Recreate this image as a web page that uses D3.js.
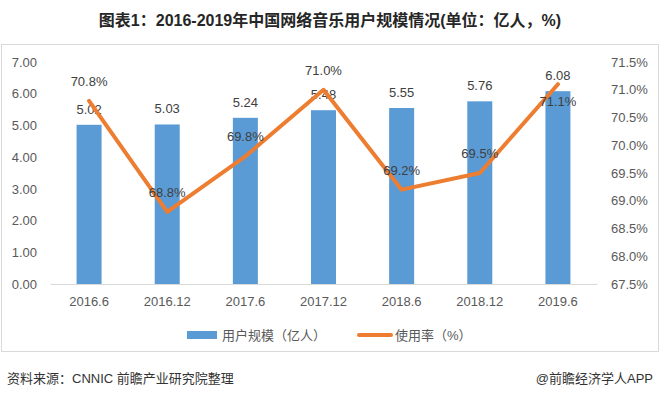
<!DOCTYPE html>
<html><head><meta charset="utf-8">
<script src="https://cdn.jsdelivr.net/npm/d3@7"></script>
<style>
html,body{margin:0;padding:0;background:#fff;}
svg{display:block;font-family:"Liberation Sans","Noto Sans CJK SC",sans-serif;}
</style></head>
<body>
<svg id="c" width="660" height="397"></svg>
<script>
const categories = ["2016.6","2016.12","2017.6","2017.12","2018.6","2018.12","2019.6"];
const users = [5.02,5.03,5.24,5.48,5.55,5.76,6.08];
const rate = [70.8,68.8,69.8,71.0,69.2,69.5,71.1];
const leftTicks = [0,1,2,3,4,5,6,7];
const rightTicks = [67.5,68,68.5,69,69.5,70,70.5,71,71.5];
const rateLabelBelow = [false,false,false,false,false,false,true];

const svg = d3.select("#c");
const x = d3.scaleBand().domain(categories).range([50,597]).paddingInner(0.68).paddingOuter(0.34);
const yL = d3.scaleLinear().domain([0,7]).range([284,62]);
const yR = d3.scaleLinear().domain([67.5,71.5]).range([284,62]);
const cx = c => x(c) + x.bandwidth()/2;

// frame
svg.append("rect").attr("x",1.5).attr("y",44.5).attr("width",657).attr("height",307)
  .attr("fill","none").attr("stroke","#d9d9d9");

// title
svg.append("text").attr("x",330).attr("y",26).attr("text-anchor","middle")
  .attr("font-size",16).attr("font-weight","bold").attr("fill","#262626")
  .text("图表1：2016-2019年中国网络音乐用户规模情况(单位：亿人，%)");

// axes
const axL = svg.append("g").attr("transform","translate(50,0)")
  .call(d3.axisLeft(yL).tickValues(leftTicks).tickFormat(d3.format(".2f")).tickSize(0).tickPadding(13));
const axR = svg.append("g").attr("transform","translate(597,0)")
  .call(d3.axisRight(yR).tickValues(rightTicks).tickFormat(d=>d3.format(".1f")(d)+"%").tickSize(0).tickPadding(14));
[axL,axR].forEach(a=>{a.select(".domain").remove();
  a.selectAll("text").attr("font-size",13).attr("fill","#595959").attr("font-family","Liberation Sans, sans-serif");});

const axB = svg.append("g").attr("transform","translate(0,284)")
  .call(d3.axisBottom(x).tickSize(0).tickPadding(13));
axB.select(".domain").attr("stroke","#d9d9d9").attr("d","M50.5,0.5H597.5");
axB.selectAll("text").attr("font-size",13).attr("fill","#595959").attr("font-family","Liberation Sans, sans-serif");

// bars
svg.append("g").selectAll("rect").data(categories).join("rect")
  .attr("x",d=>x(d)).attr("width",x.bandwidth())
  .attr("y",(d,i)=>yL(users[i])).attr("height",(d,i)=>yL(0)-yL(users[i]))
  .attr("fill","#5B9BD5");

// bar labels
svg.append("g").selectAll("text").data(categories).join("text")
  .attr("x",d=>cx(d)).attr("y",(d,i)=>yL(users[i])-11)
  .attr("text-anchor","middle").attr("font-size",13).attr("fill","#404040")
  .text((d,i)=>users[i].toFixed(2));

// line
const line = d3.line().x((d,i)=>cx(categories[i])).y(d=>yR(d));
svg.append("path").datum(rate).attr("d",line).attr("fill","none")
  .attr("stroke","#ED7D31").attr("stroke-width",4).attr("stroke-linejoin","round").attr("stroke-linecap","round");

// line labels
svg.append("g").selectAll("text").data(categories).join("text")
  .attr("x",d=>cx(d)).attr("y",(d,i)=>rateLabelBelow[i] ? yR(rate[i])+22 : yR(rate[i])-15)
  .attr("text-anchor","middle").attr("font-size",13).attr("fill","#404040")
  .text((d,i)=>rate[i].toFixed(1)+"%");

// legend
const lg = svg.append("g");
lg.append("rect").attr("x",187).attr("y",331).attr("width",30).attr("height",8).attr("fill","#5B9BD5");
lg.append("text").attr("x",222).attr("y",340).attr("font-size",13).attr("fill","#595959").text("用户规模（亿人）");
lg.append("line").attr("x1",359).attr("x2",391).attr("y1",335).attr("y2",335)
  .attr("stroke","#ED7D31").attr("stroke-width",4).attr("stroke-linecap","round");
lg.append("text").attr("x",395).attr("y",340).attr("font-size",13).attr("fill","#595959").text("使用率（%）");

// footer
svg.append("text").attr("x",7).attr("y",383).attr("font-size",13).attr("fill","#333")
  .text("资料来源：CNNIC 前瞻产业研究院整理");
svg.append("text").attr("x",653).attr("y",383).attr("text-anchor","end").attr("font-size",13).attr("fill","#333")
  .text("@前瞻经济学人APP");
</script>
</body></html>
